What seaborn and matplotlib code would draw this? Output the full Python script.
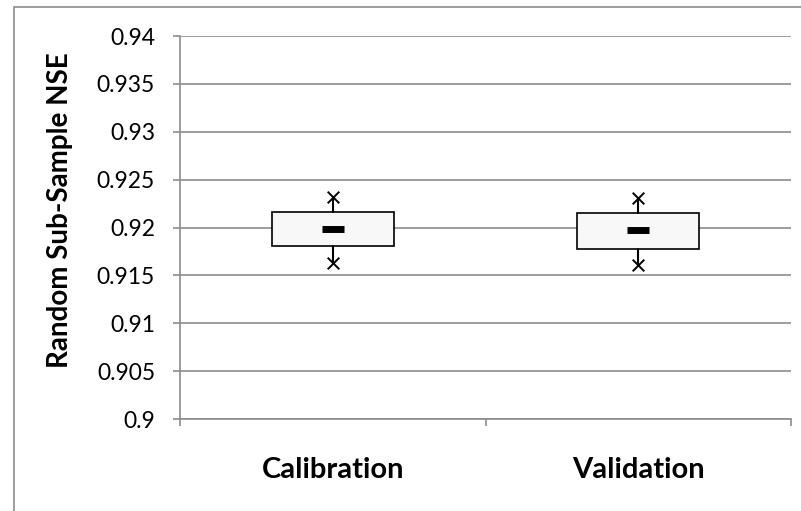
import numpy as np
import matplotlib
matplotlib.use("Agg")
import matplotlib.pyplot as plt
import matplotlib.patches as mpatches
import seaborn as sns
import pandas as pd

# ---- data ----
categories = ["Calibration", "Validation"]
q1_vals = [0.9181, 0.9178]
q3_vals = [0.92165, 0.9215]
median_vals = [0.91988, 0.91971]
whisker_low = [0.91626, 0.91609]
whisker_high = [0.92322, 0.92305]
yticks = [0.9, 0.905, 0.91, 0.915, 0.92, 0.925, 0.93, 0.935, 0.94]
ytick_labels = ["0.9", "0.905", "0.91", "0.915", "0.92", "0.925", "0.93", "0.935", "0.94"]
ylabel = "Random Sub-Sample NSE"

sns.set_theme(style="white")
plt.rcParams["font.family"] = ["Lato", "DejaVu Sans"]

W, H = 801, 511
fig = plt.figure(figsize=(W / 100, H / 100), dpi=100)
ax = fig.add_axes([180 / W, 1 - 419 / H, (791 - 180) / W, (419 - 36) / H])

grid_c = "#8c8c8c"

pos = np.arange(len(categories))
stats = []
for i, c in enumerate(categories):
    stats.append(dict(label=c, q1=q1_vals[i], q3=q3_vals[i], med=median_vals[i],
                      whislo=whisker_low[i], whishi=whisker_high[i], fliers=[]))

ax.bxp(stats, positions=pos, widths=0.4, patch_artist=True, showcaps=False,
       showfliers=False,
       boxprops=dict(facecolor="#f8f8f8", edgecolor="black", linewidth=1.2),
       whiskerprops=dict(color="black", linewidth=1.5),
       medianprops=dict(linewidth=0))

df_w = pd.DataFrame({"x": np.concatenate([pos, pos]),
                     "y": whisker_low + whisker_high})
sns.scatterplot(data=df_w, x="x", y="y", marker="x", s=70, color="black",
                linewidth=1.4, ax=ax, zorder=5, legend=False)

df_m = pd.DataFrame({"x": pos, "y": median_vals})
sns.scatterplot(data=df_m, x="x", y="y", marker="_", s=270, color="black",
                linewidth=5, ax=ax, zorder=6, legend=False)

ax.set_xlim(-0.5, len(categories) - 0.5)
ax.set_ylim(0.9, 0.94)
ax.set_yticks(yticks)
ax.set_yticklabels(ytick_labels)
ax.set_xticks(pos)
ax.set_xticklabels(categories, fontweight="bold", fontsize=21)
ax.set_xticks(np.arange(len(categories) + 1) - 0.5, minor=True)
ax.set_xlabel("")
ax.set_ylabel("")

ax.yaxis.grid(True, color=grid_c, linewidth=1.2)
ax.xaxis.grid(False)
ax.set_axisbelow(True)

for s in ["top", "right"]:
    ax.spines[s].set_visible(False)
for s in ["left", "bottom"]:
    ax.spines[s].set_color(grid_c)
    ax.spines[s].set_linewidth(1.2)

ax.tick_params(axis="y", which="major", direction="out", length=5, width=1.2,
               color=grid_c, labelsize=16.5, pad=13, left=True, labelcolor="black")
ax.tick_params(axis="x", which="major", length=0, pad=27, labelcolor="black")
ax.tick_params(axis="x", which="minor", direction="out", length=5, width=1.2,
               color=grid_c, bottom=True)

fig.text(60 / W, 1 - 210 / H, ylabel, rotation=90, ha="center", va="center",
         fontsize=20, fontweight="bold", color="black")

border = mpatches.Rectangle((13.5 / W, -0.5), 2.0, 1 - 7.5 / H + 0.5,
                            transform=fig.transFigure, fill=False,
                            edgecolor=grid_c, linewidth=1.2, clip_on=False)
fig.patches.append(border)

fig.savefig("out.png", dpi=100)
